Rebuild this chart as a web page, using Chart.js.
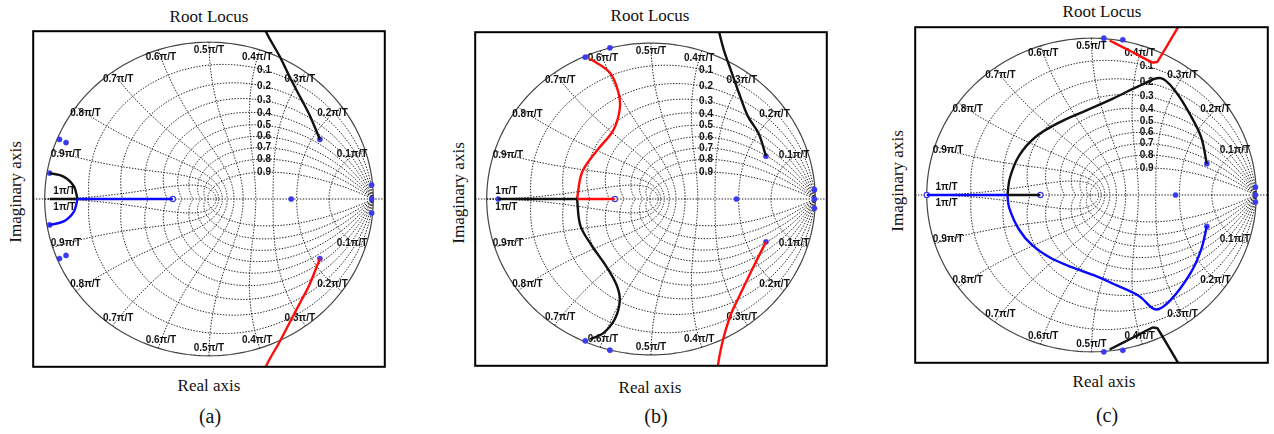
<!DOCTYPE html>
<html><head><meta charset="utf-8">
<script src="https://cdn.jsdelivr.net/npm/chart.js@4.4.0/dist/chart.umd.min.js"></script>
<style>
html,body{margin:0;padding:0;background:#fff;width:1274px;height:434px;overflow:hidden;position:relative;}
canvas{position:absolute;}
.t{position:absolute;font-family:"Liberation Serif","DejaVu Serif","Times New Roman",Times,serif;font-size:17px;color:#111;white-space:nowrap;transform:translate(-50%,-50%);line-height:1;}
.v{transform:translate(-50%,-50%) rotate(-90deg);}
.p{font-size:20px;}
</style></head><body>
<canvas id="ca"></canvas><canvas id="cb"></canvas><canvas id="cc"></canvas>
<div class="t" style="left:209px;top:16px">Root Locus</div>
<div class="t" style="left:650px;top:15px">Root Locus</div>
<div class="t" style="left:1102px;top:11px">Root Locus</div>
<div class="t" style="left:209px;top:385px">Real axis</div>
<div class="t" style="left:650px;top:387px">Real axis</div>
<div class="t" style="left:1104px;top:381px">Real axis</div>
<div class="t v" style="left:15px;top:192px">Imaginary axis</div>
<div class="t v" style="left:458px;top:193px">Imaginary axis</div>
<div class="t v" style="left:897px;top:181px">Imaginary axis</div>
<div class="t p" style="left:210px;top:416px">(a)</div>
<div class="t p" style="left:656px;top:416px">(b)</div>
<div class="t p" style="left:1107px;top:415px">(c)</div>
<script>
// ---- grid levels / tick labels ----
const zetaLevels = [0.1,0.2,0.3,0.4,0.5,0.6,0.7,0.8,0.9];
const zetaLabels = ['0.1','0.2','0.3','0.4','0.5','0.6','0.7','0.8','0.9'];
const wnLevels = [1,2,3,4,5,6,7,8,9,10];
const wnLabels = ['0.1π/T','0.2π/T','0.3π/T','0.4π/T','0.5π/T','0.6π/T','0.7π/T','0.8π/T','0.9π/T','1π/T'];

// ---- panel (a) data ----
const aBlackUpper = [[0.32,1.15],[0.35,1.06],[0.43,0.91],[0.50,0.76],[0.56,0.64],[0.61,0.54],[0.675,0.38]];
const aRedLower   = [[0.675,-0.38],[0.61,-0.55],[0.56,-0.65],[0.50,-0.77],[0.43,-0.91],[0.35,-1.06],[0.32,-1.15]];
const aBlackArc   = [[-0.97,0.165],[-0.885,0.143],[-0.823,0.082],[-0.80,0]];
const aBlueArc    = [[-0.80,0],[-0.823,-0.082],[-0.885,-0.143],[-0.97,-0.165]];
const aBlueAxis   = [[-0.80,0],[-0.22,0]];
const aBlackAxis  = [[-0.97,0],[-0.80,0]];
const aPoles = [[-0.97,0.165],[-0.97,-0.165],[-0.91,0.38],[-0.87,0.36],[-0.91,-0.38],[-0.87,-0.36],[0.50,0],[0.99,0.09],[0.99,0],[0.99,-0.09],[0.675,0.38],[0.675,-0.38]];
const aZeros = [[-0.22,0]];

// ---- panel (b) data ----
const bBlackUpper = [[0.40,1.15],[0.415,1.07],[0.445,0.95],[0.485,0.83],[0.535,0.68],[0.59,0.53],[0.655,0.42],[0.70,0.275]];
const bRedLower   = [[0.70,-0.275],[0.64,-0.40],[0.575,-0.54],[0.53,-0.64],[0.49,-0.73],[0.455,-0.84],[0.43,-0.94],[0.41,-1.05],[0.40,-1.15]];
const bRedUpper   = [[-0.37,0.90],[-0.25,0.81],[-0.20,0.69],[-0.19,0.58],[-0.23,0.44],[-0.33,0.31],[-0.42,0.17],[-0.45,0]];
const bRedAxis    = [[-0.45,0],[-0.22,0]];
const bBlackLower = [[-0.45,0],[-0.43,-0.17],[-0.36,-0.30],[-0.28,-0.42],[-0.21,-0.55],[-0.19,-0.65],[-0.22,-0.77],[-0.29,-0.86],[-0.37,-0.90]];
const bBlackAxis  = [[-0.93,0],[-0.45,0]];
const bPoles = [[-0.40,0.91],[-0.25,0.97],[-0.40,-0.91],[-0.25,-0.97],[-0.93,0],[0.52,0],[0.995,0.06],[0.995,0],[0.995,-0.06],[0.70,0.275],[0.70,-0.275]];
const bZeros = [[-0.22,0]];

// ---- panel (c) data ----
const cRedUpper   = [[0.11,0.985],[0.25,0.91],[0.37,0.845],[0.40,0.85],[0.57,1.15]];
const cBlackLower = [[0.11,-0.985],[0.25,-0.91],[0.37,-0.845],[0.40,-0.85],[0.57,-1.15]];
const cBlackUpper = [[-0.51,0],[-0.495,0.11],[-0.44,0.25],[-0.34,0.37],[-0.20,0.46],[-0.03,0.54],[0.13,0.615],[0.30,0.70],[0.42,0.745],[0.51,0.66],[0.60,0.51],[0.665,0.37],[0.70,0.20]];
const cBlueLower  = [[-0.51,0],[-0.50,-0.08],[-0.44,-0.22],[-0.36,-0.32],[-0.25,-0.40],[-0.12,-0.46],[0.01,-0.51],[0.15,-0.575],[0.29,-0.645],[0.39,-0.73],[0.48,-0.67],[0.60,-0.50],[0.665,-0.35],[0.70,-0.20]];
const cBlueAxis   = [[-1.0,0],[-0.51,0]];
const cBlackAxis  = [[-0.51,0],[-0.31,0]];
const cPoles = [[0.075,1.0],[0.19,0.99],[0.075,-1.0],[0.19,-0.99],[0.51,0],[0.995,0.05],[0.995,0],[0.995,-0.045],[0.70,0.20],[0.70,-0.20]];
const cZeros = [[-1.0,0],[-0.31,0]];

const RED='#ff0d0d', BLUE='#0a0aff', BLACK='#111111', MK='#3a3af0';

const zgrid = {
  id:'zgrid',
  beforeDatasetsDraw(chart){
    const {ctx, chartArea:a, scales:{x,y}} = chart;
    const P=(u,v)=>[x.getPixelForValue(u), y.getPixelForValue(v)];
    const path=(pts)=>{ctx.beginPath(); pts.forEach((p,i)=>{const q=P(p[0],p[1]); i?ctx.lineTo(q[0],q[1]):ctx.moveTo(q[0],q[1]);}); ctx.stroke();};
    ctx.save();
    ctx.beginPath(); ctx.rect(a.left,a.top,a.right-a.left,a.bottom-a.top); ctx.clip();
    ctx.strokeStyle='rgba(20,20,20,0.95)'; ctx.lineWidth=1; ctx.setLineDash([1.4,1.5]);
    for(const z of zetaLevels){
      const k=z/Math.sqrt(1-z*z); const up=[],dn=[];
      for(let i=0;i<=160;i++){const ph=Math.PI*i/160, r=Math.exp(-k*ph); up.push([r*Math.cos(ph),r*Math.sin(ph)]); dn.push([r*Math.cos(ph),-r*Math.sin(ph)]);}
      path(up); path(dn);
    }
    for(const k of wnLevels){
      const wn=k*Math.PI/10; const up=[],dn=[];
      for(let i=0;i<=80;i++){const th=Math.PI/2*i/80; const re=-wn*Math.sin(th), im=wn*Math.cos(th); const r=Math.exp(re); up.push([r*Math.cos(im),r*Math.sin(im)]); dn.push([r*Math.cos(im),-r*Math.sin(im)]);}
      path(up); path(dn);
    }
    path([[-1.3,0],[1.3,0]]);
    ctx.setLineDash([]); ctx.strokeStyle='#444'; ctx.lineWidth=1.2;
    const circ=[]; for(let i=0;i<=240;i++){const t=2*Math.PI*i/240; circ.push([Math.cos(t),Math.sin(t)]);} path(circ);
    // labels
    ctx.fillStyle='#111'; ctx.font='bold 10px "Liberation Sans", Arial, sans-serif'; ctx.textAlign='center'; ctx.textBaseline='middle';
    zetaLevels.forEach((z,j)=>{
      const k=z/Math.sqrt(1-z*z); let yy=0;
      for(let i=0;i<=2000;i++){const ph=Math.PI*i/2000, r=Math.exp(-k*ph); if(r*Math.cos(ph)<=0.33){yy=r*Math.sin(ph);break;}}
      const q=P(0.335,yy); ctx.fillText(zetaLabels[j],q[0],q[1]);
    });
    wnLevels.forEach((k,j)=>{
      if(k===10){ let q=P(-0.88,0.05); ctx.fillText(wnLabels[j],q[0],q[1]); q=P(-0.88,-0.05); ctx.fillText(wnLabels[j],q[0],q[1]); return; }
      const ang=k*Math.PI/10, r=0.9+0.05*Math.sin(ang);
      let q=P(r*Math.cos(ang), r*Math.sin(ang)); ctx.fillText(wnLabels[j],q[0],q[1]);
      q=P(r*Math.cos(ang), -r*Math.sin(ang)); ctx.fillText(wnLabels[j],q[0],q[1]);
    });
    ctx.restore();
  },
  afterDraw(chart){
    const {ctx, chartArea:a}=chart;
    ctx.save(); ctx.strokeStyle='#000'; ctx.lineWidth=2; ctx.strokeRect(a.left,a.top,a.right-a.left,a.bottom-a.top); ctx.restore();
  }
};

const toPts = arr => arr.map(p=>({x:p[0],y:p[1]}));
const line = (arr,color,tension=0.35)=>({data:toPts(arr),showLine:true,borderColor:color,borderWidth:2.4,pointRadius:0,tension,clip:0,fill:false});
const marks = (arr)=>({data:toPts(arr),showLine:false,pointRadius:2.6,pointBackgroundColor:MK,pointBorderColor:MK,pointBorderWidth:0.5,clip:0});
const rings = (arr)=>({data:toPts(arr),showLine:false,pointRadius:2.6,pointBackgroundColor:'#fff',pointBorderColor:MK,pointBorderWidth:1.2,clip:0});

function make(id,box,datasets){
  const c=document.getElementById(id);
  c.width=box.w+4; c.height=box.h+4;
  c.style.left=(box.l-2)+'px'; c.style.top=(box.t-2)+'px';
  new Chart(c,{type:'scatter',data:{datasets},plugins:[zgrid],options:{
    responsive:false,animation:false,events:[],layout:{padding:2},
    plugins:{legend:{display:false},tooltip:{enabled:false},title:{display:false}},
    scales:{x:{type:'linear',min:-1.07,max:1.07,display:false},y:{type:'linear',min:-1.07,max:1.07,display:false}}
  }});
}

make('ca',{l:30,t:28,w:358,h:342},[
  line(aBlueAxis,BLUE,0), line(aBlueArc,BLUE), line(aBlackAxis,BLACK,0), line(aBlackArc,BLACK),
  line(aBlackUpper,BLACK), line(aRedLower,RED), marks(aPoles), rings(aZeros)
]);
make('cb',{l:472,t:29,w:358,h:340},[
  line(bBlackAxis,BLACK,0), line(bRedAxis,RED,0), line(bRedUpper,RED), line(bBlackLower,BLACK),
  line(bBlackUpper,BLACK), line(bRedLower,RED), marks(bPoles), rings(bZeros)
]);
make('cc',{l:912,t:24,w:359,h:342},[
  line(cBlueAxis,BLUE,0), line(cBlackAxis,BLACK,0), line(cBlackUpper,BLACK), line(cBlueLower,BLUE),
  line(cRedUpper,RED,0.1), line(cBlackLower,BLACK,0.1), marks(cPoles), rings(cZeros)
]);
</script>
</body></html>
